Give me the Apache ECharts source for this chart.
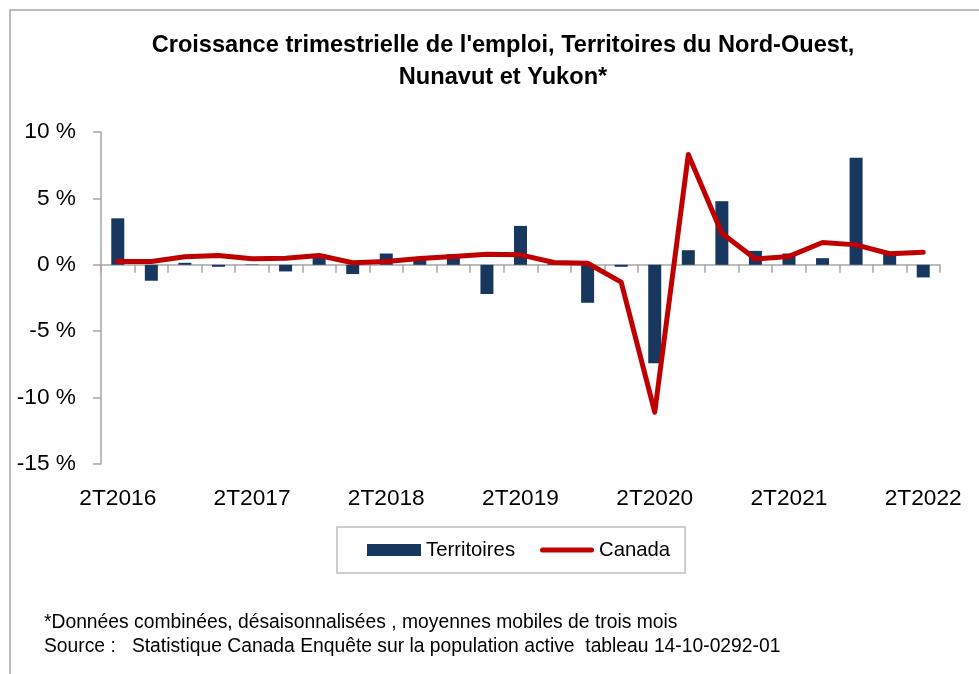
<!DOCTYPE html>
<html>
<head>
<meta charset="utf-8">
<script src="https://cdn.jsdelivr.net/npm/echarts@6/dist/echarts.min.js"></script>
<style>
html,body{margin:0;padding:0;background:#fff;}
#chart{width:979px;height:674px;}
</style>
</head>
<body>
<div id="chart"></div>
<script>
const categories = ['2T2016','3T2016','4T2016','1T2017','2T2017','3T2017','4T2017','1T2018','2T2018','3T2018','4T2018','1T2019','2T2019','3T2019','4T2019','1T2020','2T2020','3T2020','4T2020','1T2021','2T2021','3T2021','4T2021','1T2022','2T2022'];
const territoires = [3.5,-1.2,0.15,-0.15,0.03,-0.5,0.8,-0.7,0.85,0.4,0.8,-2.2,2.93,0.1,-2.86,-0.15,-7.42,1.1,4.79,1.05,0.85,0.5,8.07,0.8,-0.95];
const canada = [0.25,0.25,0.6,0.7,0.45,0.5,0.7,0.15,0.25,0.47,0.62,0.8,0.75,0.17,0.12,-1.3,-11.1,8.3,2.38,0.43,0.63,1.68,1.5,0.83,0.95];
const yMin = -15, yMax = 10, yStep = 5;
const titleLines = ["Croissance trimestrielle de l'emploi, Territoires du Nord-Ouest,", "Nunavut et Yukon*"];
const noteLines = ["*Données combinées, désaisonnalisées , moyennes mobiles de trois mois", "Source :   Statistique Canada Enquête sur la population active  tableau 14-10-0292-01"];

const FAMILY = "'Liberation Sans', Arial, sans-serif";
const ctx = document.createElement('canvas').getContext('2d');
function fit(text, weight, target) {
  ctx.font = weight + ' 100px ' + FAMILY;
  const w = ctx.measureText(text).width;
  return Math.round(100 * target / w * 10) / 10;
}
const titleSize = fit(titleLines[0], 'bold', 703);
const noteSize = fit(noteLines[1], 'normal', 737);
const axisSize = fit('2T2016', 'normal', 77);
const legendSize = fit('Territoires', 'normal', 89);

const chart = echarts.init(document.getElementById('chart'));
const gray = '#a6a6a6';
chart.setOption({
  animation: false,
  backgroundColor: '#fff',
  grid: {left: 101, right: 39, top: 132, bottom: 210, containLabel: false},
  legend: {
    left: 337, top: 527,
    padding: [13, 15, 13, 30],
    itemWidth: 54, itemHeight: 12, itemGap: 25,
    borderColor: '#bfbfbf', borderWidth: 1.5,
    textStyle: {fontFamily: FAMILY, fontSize: legendSize, color: '#000'},
    data: [
      {name: 'Territoires', icon: 'rect'},
      {name: 'Canada', icon: 'path://M2.5,0 H51.5 A2.5,2.5 0 0 1 51.5,5 H2.5 A2.5,2.5 0 0 1 2.5,0 Z', itemStyle: {color: '#C00000'}}
    ]
  },
  xAxis: [{
    type: 'category', data: categories,
    axisLine: {onZero: true, lineStyle: {color: gray, width: 1.5}},
    axisTick: {show: true, interval: 0, length: 8, lineStyle: {color: gray, width: 1.5}},
    axisLabel: {show: false}
  }, {
    type: 'category', data: categories, position: 'bottom',
    axisLine: {show: false, onZero: false}, axisTick: {show: false},
    axisLabel: {interval: 3, margin: 23, fontFamily: FAMILY, fontSize: axisSize, color: '#000'}
  }],
  yAxis: {
    type: 'value', min: yMin, max: yMax, interval: yStep,
    axisLine: {show: true, lineStyle: {color: gray, width: 1.5}},
    axisTick: {show: true, length: 8, lineStyle: {color: gray, width: 1.5}},
    splitLine: {show: false},
    axisLabel: {margin: 25, fontFamily: FAMILY, fontSize: axisSize, color: '#000', formatter: v => v + ' %'}
  },
  series: [{
    name: 'Territoires', type: 'bar', xAxisIndex: 0, data: territoires,
    barWidth: 13, itemStyle: {color: '#17375E'}
  }, {
    name: 'Canada', type: 'line', xAxisIndex: 0, data: canada,
    symbol: 'none', smooth: false, z: 5,
    lineStyle: {color: '#C00000', width: 5, cap: 'round', join: 'round'},
    itemStyle: {color: '#C00000'}
  }],
  graphic: [
    {type: 'rect', silent: true, shape: {x: 10, y: 10, width: 1200, height: 1000}, style: {fill: 'none', stroke: gray, lineWidth: 1.5}},
    {type: 'text', x: 503, y: 45, style: {text: titleLines[0], textAlign: 'center', textVerticalAlign: 'middle', font: 'bold ' + titleSize + 'px ' + FAMILY, fill: '#000'}},
    {type: 'text', x: 503, y: 77, style: {text: titleLines[1], textAlign: 'center', textVerticalAlign: 'middle', font: 'bold ' + titleSize + 'px ' + FAMILY, fill: '#000'}},
    {type: 'text', x: 44, y: 623, style: {text: noteLines[0], textAlign: 'left', textVerticalAlign: 'middle', font: noteSize + 'px ' + FAMILY, fill: '#000'}},
    {type: 'text', x: 44, y: 647, style: {text: noteLines[1], textAlign: 'left', textVerticalAlign: 'middle', font: noteSize + 'px ' + FAMILY, fill: '#000'}}
  ]
});
</script>
</body>
</html>
